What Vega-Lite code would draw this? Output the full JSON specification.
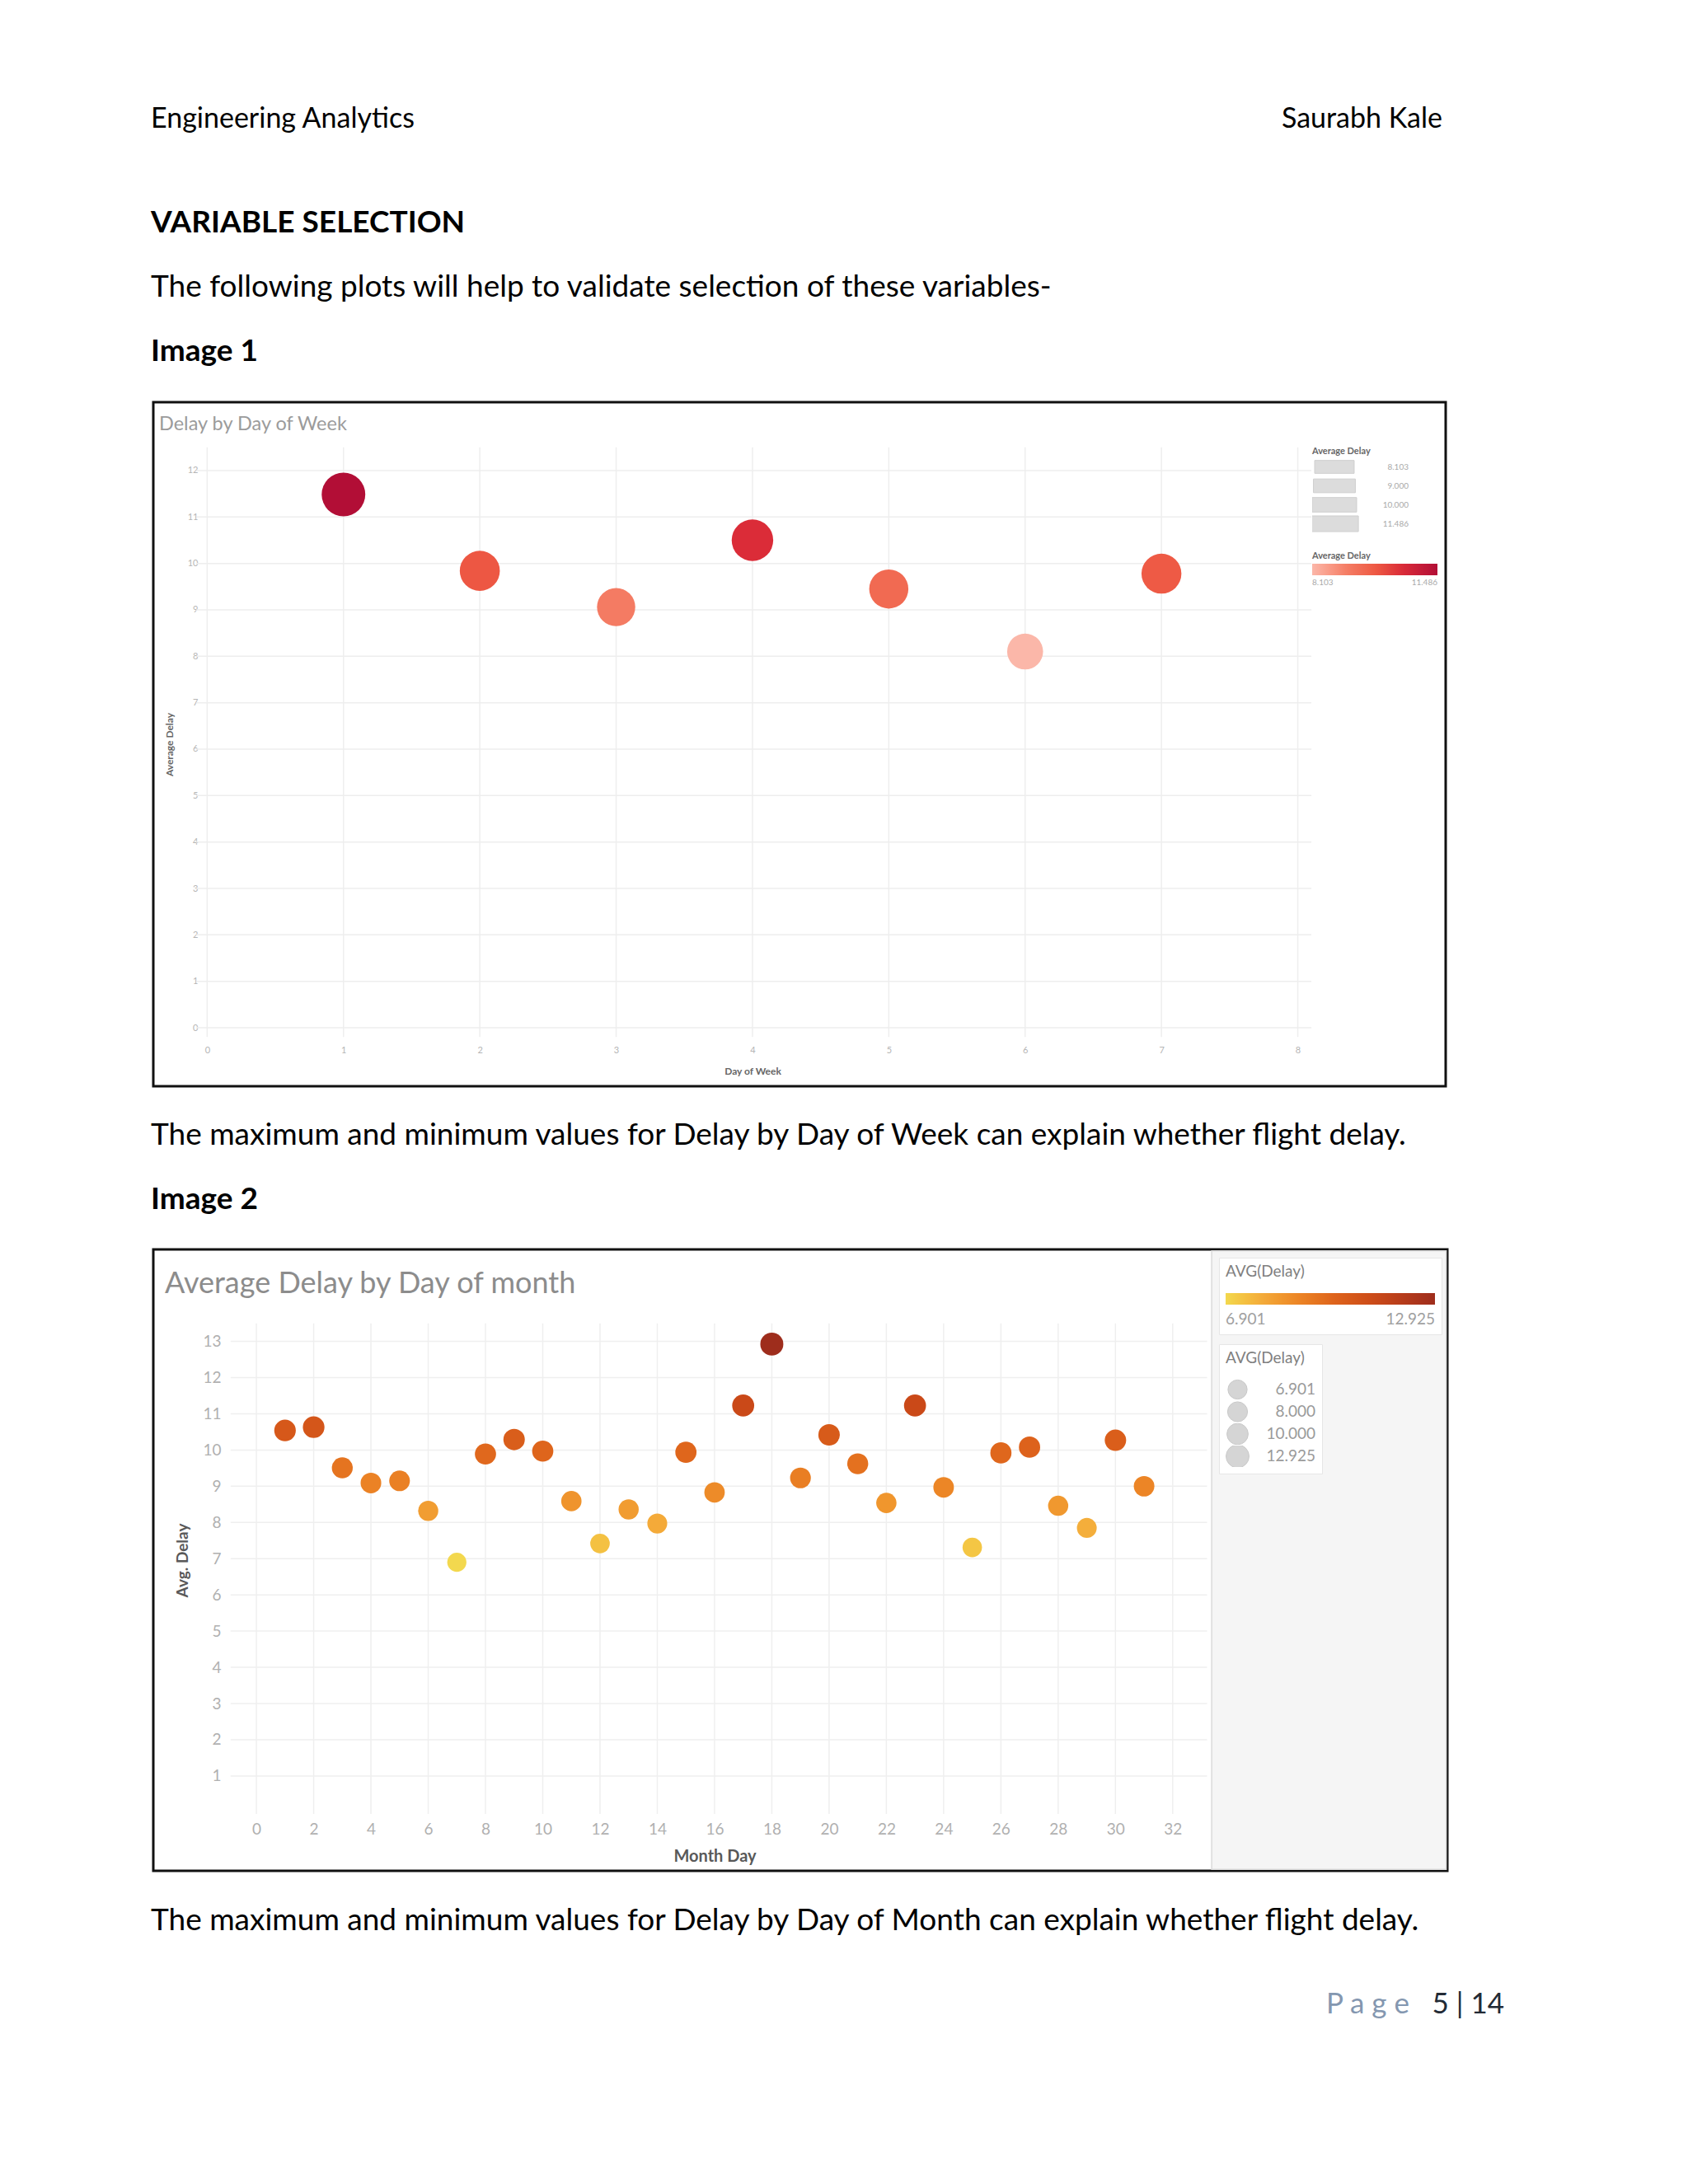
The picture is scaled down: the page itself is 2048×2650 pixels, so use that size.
{
  "$schema": "https://vega.github.io/schema/vega-lite/v6.json",
  "background": "white",
  "padding": {"left": 183, "top": 0, "right": 0, "bottom": 0},
  "bounds": "flush",
  "spacing": 0,
  "resolve": {
    "scale": {"color": "independent", "size": "independent", "x": "independent", "y": "independent"},
    "legend": {"color": "independent", "size": "independent"}
  },
  "config": {"view": {"stroke": null}, "font": "Lato"},
  "datasets": {
    "week": [
      {"day": 1, "delay": 11.486}, {"day": 2, "delay": 9.84}, {"day": 3, "delay": 9.06},
      {"day": 4, "delay": 10.5}, {"day": 5, "delay": 9.45}, {"day": 6, "delay": 8.103},
      {"day": 7, "delay": 9.78}
    ],
    "month": [
      {"day": 1, "delay": 10.54}, {"day": 2, "delay": 10.63}, {"day": 3, "delay": 9.51},
      {"day": 4, "delay": 9.09}, {"day": 5, "delay": 9.15}, {"day": 6, "delay": 8.32},
      {"day": 7, "delay": 6.901}, {"day": 8, "delay": 9.89}, {"day": 9, "delay": 10.29},
      {"day": 10, "delay": 9.97}, {"day": 11, "delay": 8.59}, {"day": 12, "delay": 7.42},
      {"day": 13, "delay": 8.36}, {"day": 14, "delay": 7.97}, {"day": 15, "delay": 9.94},
      {"day": 16, "delay": 8.83}, {"day": 17, "delay": 11.23}, {"day": 18, "delay": 12.925},
      {"day": 19, "delay": 9.23}, {"day": 20, "delay": 10.42}, {"day": 21, "delay": 9.62},
      {"day": 22, "delay": 8.54}, {"day": 23, "delay": 11.23}, {"day": 24, "delay": 8.97},
      {"day": 25, "delay": 7.31}, {"day": 26, "delay": 9.92}, {"day": 27, "delay": 10.08},
      {"day": 28, "delay": 8.46}, {"day": 29, "delay": 7.85}, {"day": 30, "delay": 10.27},
      {"day": 31, "delay": 9.0}
    ],
    "wk_x": [{"v": 0}, {"v": 1}, {"v": 2}, {"v": 3}, {"v": 4}, {"v": 5}, {"v": 6}, {"v": 7}, {"v": 8}],
    "wk_y": [{"v": 0}, {"v": 1}, {"v": 2}, {"v": 3}, {"v": 4}, {"v": 5}, {"v": 6}, {"v": 7}, {"v": 8}, {"v": 9}, {"v": 10}, {"v": 11}, {"v": 12}],
    "mo_x": [{"v": 0}, {"v": 2}, {"v": 4}, {"v": 6}, {"v": 8}, {"v": 10}, {"v": 12}, {"v": 14}, {"v": 16}, {"v": 18}, {"v": 20}, {"v": 22}, {"v": 24}, {"v": 26}, {"v": 28}, {"v": 30}, {"v": 32}],
    "mo_y": [{"v": 1}, {"v": 2}, {"v": 3}, {"v": 4}, {"v": 5}, {"v": 6}, {"v": 7}, {"v": 8}, {"v": 9}, {"v": 10}, {"v": 11}, {"v": 12}, {"v": 13}]
  },
  "vconcat": [
    {
      "width": 1564, "height": 155,
      "data": {"values": [{"left": "Engineering Analytics", "right": "Saurabh Kale"}]},
      "layer": [
        {"mark": {"type": "text", "align": "left", "baseline": "alphabetic", "font": "Lato", "fontSize": 34, "color": "#000000", "dx": -3},
         "encoding": {"text": {"field": "left", "type": "nominal"}, "x": {"value": 0}, "y": {"value": "height"}}},
        {"mark": {"type": "text", "align": "right", "baseline": "alphabetic", "font": "Lato", "fontSize": 34, "color": "#000000"},
         "encoding": {"text": {"field": "right", "type": "nominal"}, "x": {"value": "width"}, "y": {"value": "height"}}}
      ]
    },
    {
      "width": 1568, "height": 127,
      "data": {"values": [{"t": "VARIABLE SELECTION"}]},
      "mark": {"type": "text", "align": "left", "baseline": "alphabetic", "font": "Lato", "fontSize": 37, "fontWeight": "bold", "color": "#000000", "dx": -3},
      "encoding": {"text": {"field": "t", "type": "nominal"}, "x": {"value": 0}, "y": {"value": "height"}}
    },
    {
      "width": 1568, "height": 78,
      "data": {"values": [{"t": "The following plots will help to validate selection of these variables-"}]},
      "mark": {"type": "text", "align": "left", "baseline": "alphabetic", "font": "Lato", "fontSize": 37, "color": "#000000", "dx": -3},
      "encoding": {"text": {"field": "t", "type": "nominal"}, "x": {"value": 0}, "y": {"value": "height"}}
    },
    {
      "width": 1568, "height": 128,
      "data": {"values": [{"t": "Image 1"}]},
      "mark": {"type": "text", "align": "left", "baseline": "alphabetic", "font": "Lato", "fontSize": 37, "fontWeight": "bold", "color": "#000000", "dx": -3, "dy": -50},
      "encoding": {"text": {"field": "t", "type": "nominal"}, "x": {"value": 0}, "y": {"value": "height"}}
    },
    {
      "width": 1568, "height": 830,
      "view": {"stroke": "#111111", "strokeWidth": 3},
      "title": {"text": "Delay by Day of Week", "anchor": "start", "frame": "group", "offset": -38, "dx": 7, "font": "Lato", "fontSize": 23.5, "fontWeight": "normal", "color": "#9b9b9b"},
      "layer": [
        {
          "data": {"name": "wk_x"},
          "mark": {"type": "rule", "color": "#eeeeee", "strokeWidth": 1.5},
          "encoding": {
            "x": {"field": "v", "type": "quantitative", "scale": {"domain": [-0.395, 9.085], "nice": false, "zero": false},
                  "axis": {"orient": "bottom", "offset": -52, "values": [0, 1, 2, 3, 4, 5, 6, 7, 8], "grid": false, "domain": false, "ticks": false,
                           "labelPadding": 2, "labelFontSize": 11, "labelColor": "#b5b5b5", "labelFlush": false, "labelOverlap": false,
                           "title": "Day of Week", "titleFontSize": 12, "titleFontWeight": "bold", "titleColor": "#666666", "titlePadding": 15, "titleX": 727}},
            "y": {"datum": -0.2, "type": "quantitative", "scale": {"domain": [-1.26, 13.473], "nice": false, "zero": false},
                  "axis": {"orient": "left", "offset": -56, "values": [0, 1, 2, 3, 4, 5, 6, 7, 8, 9, 10, 11, 12], "grid": false, "domain": false, "ticks": false,
                           "labelPadding": 2, "labelFontSize": 11, "labelColor": "#b5b5b5", "labelFlush": false, "labelOverlap": false,
                           "title": "Average Delay", "titleFontSize": 12, "titleFontWeight": "bold", "titleColor": "#666666", "titlePadding": 15}},
            "y2": {"datum": 12.5}
          }
        },
        {
          "data": {"name": "wk_y"},
          "mark": {"type": "rule", "color": "#eeeeee", "strokeWidth": 1.5},
          "encoding": {
            "y": {"field": "v", "type": "quantitative", "scale": {"domain": [-1.26, 13.473], "nice": false, "zero": false},
                  "axis": {"orient": "left", "offset": -56, "values": [0, 1, 2, 3, 4, 5, 6, 7, 8, 9, 10, 11, 12], "grid": false, "domain": false, "ticks": false,
                           "labelPadding": 2, "labelFontSize": 11, "labelColor": "#b5b5b5", "labelFlush": false, "labelOverlap": false,
                           "title": "Average Delay", "titleFontSize": 12, "titleFontWeight": "bold", "titleColor": "#666666", "titlePadding": 15}},
            "x": {"datum": -0.08, "type": "quantitative", "scale": {"domain": [-0.395, 9.085], "nice": false, "zero": false},
                  "axis": {"orient": "bottom", "offset": -52, "values": [0, 1, 2, 3, 4, 5, 6, 7, 8], "grid": false, "domain": false, "ticks": false,
                           "labelPadding": 2, "labelFontSize": 11, "labelColor": "#b5b5b5", "labelFlush": false, "labelOverlap": false,
                           "title": "Day of Week", "titleFontSize": 12, "titleFontWeight": "bold", "titleColor": "#666666", "titlePadding": 15, "titleX": 727}},
            "x2": {"datum": 8.1}
          }
        },
        {
          "data": {"name": "week"},
          "mark": {"type": "circle", "opacity": 1},
          "encoding": {
            "x": {"field": "day", "type": "quantitative", "scale": {"domain": [-0.395, 9.085], "nice": false, "zero": false},
                  "axis": {"orient": "bottom", "offset": -52, "values": [0, 1, 2, 3, 4, 5, 6, 7, 8], "grid": false, "domain": false, "ticks": false,
                           "labelPadding": 2, "labelFontSize": 11, "labelColor": "#b5b5b5", "labelFlush": false, "labelOverlap": false,
                           "title": "Day of Week", "titleFontSize": 12, "titleFontWeight": "bold", "titleColor": "#666666", "titlePadding": 15, "titleX": 727}},
            "y": {"field": "delay", "type": "quantitative", "scale": {"domain": [-1.26, 13.473], "nice": false, "zero": false},
                  "axis": {"orient": "left", "offset": -56, "values": [0, 1, 2, 3, 4, 5, 6, 7, 8, 9, 10, 11, 12], "grid": false, "domain": false, "ticks": false,
                           "labelPadding": 2, "labelFontSize": 11, "labelColor": "#b5b5b5", "labelFlush": false, "labelOverlap": false,
                           "title": "Average Delay", "titleFontSize": 12, "titleFontWeight": "bold", "titleColor": "#666666", "titlePadding": 15}},
            "size": {"field": "delay", "type": "quantitative", "scale": {"domain": [8.103, 11.486], "range": [1900, 2800], "zero": false},
                     "legend": {"orient": "none", "legendX": 1406, "legendY": 54, "title": "Average Delay", "titleFontSize": 11, "titleFontWeight": "bold", "titleColor": "#666666", "titlePadding": 3,
                                "values": [8.103, 9, 10, 11.486], "format": ".3f", "symbolType": "M-1.1,-0.36H1.1V0.36H-1.1Z", "symbolFillColor": "#dcdcdc", "symbolStrokeColor": "#cfcfcf", "symbolStrokeWidth": 1, "symbolOpacity": 1,
                                "labelAlign": "right", "labelOffset": 63, "labelFontSize": 10, "labelColor": "#aaaaaa", "clipHeight": 21, "rowPadding": 2}},
            "color": {"field": "delay", "type": "quantitative",
                      "scale": {"domain": [8.103, 9.06, 9.8, 10.5, 11.486], "range": ["#fbb7a9", "#f47b63", "#ee5944", "#db2c38", "#b20e36"]},
                      "legend": {"orient": "none", "legendX": 1406, "legendY": 181, "direction": "horizontal", "title": "Average Delay", "titleFontSize": 11, "titleFontWeight": "bold", "titleColor": "#666666", "titlePadding": 4,
                                 "gradientLength": 152, "gradientThickness": 14, "gradientStrokeWidth": 0, "values": [8.103, 11.486], "format": ".3f",
                                 "labelFontSize": 10, "labelColor": "#aaaaaa", "labelOffset": 4}}
          }
        }
      ]
    },
    {
      "width": 1568, "height": 71,
      "data": {"values": [{"t": "The maximum and minimum values for Delay by Day of Week can explain whether flight delay."}]},
      "mark": {"type": "text", "align": "left", "baseline": "alphabetic", "font": "Lato", "fontSize": 37, "color": "#000000", "dx": -3},
      "encoding": {"text": {"field": "t", "type": "nominal"}, "x": {"value": 0}, "y": {"value": "height"}}
    },
    {
      "width": 1568, "height": 127,
      "data": {"values": [{"t": "Image 2"}]},
      "mark": {"type": "text", "align": "left", "baseline": "alphabetic", "font": "Lato", "fontSize": 37, "fontWeight": "bold", "color": "#000000", "dx": -3, "dy": -49},
      "encoding": {"text": {"field": "t", "type": "nominal"}, "x": {"value": 0}, "y": {"value": "height"}}
    },
    {
      "width": 1570, "height": 754,
      "view": {"stroke": "#111111", "strokeWidth": 3},
      "title": {"text": "Average Delay by Day of month", "anchor": "start", "frame": "group", "offset": -61, "dx": 14, "font": "Lato", "fontSize": 36, "fontWeight": "normal", "color": "#8c8c8c"},
      "layer": [
        {
          "data": {"values": [{}]},
          "mark": {"type": "rect", "fill": "#f5f5f5", "stroke": "#dadada", "strokeWidth": 1.5},
          "encoding": {
            "x": {"datum": 33.36, "type": "quantitative", "scale": {"domain": [-3.6, 41.59], "nice": false, "zero": false},
                  "axis": {"orient": "bottom", "offset": -62, "values": [0, 2, 4, 6, 8, 10, 12, 14, 16, 18, 20, 22, 24, 26, 28, 30, 32], "grid": false, "domain": false, "ticks": false,
                           "labelPadding": 2, "labelFontSize": 19, "labelColor": "#b0b0b0", "labelFlush": false, "labelOverlap": false,
                           "title": "Month Day", "titleFontSize": 20, "titleFontWeight": "bold", "titleColor": "#595959", "titlePadding": 13, "titleX": 681}},
            "x2": {"datum": 41.55},
            "y": {"datum": -1.58, "type": "quantitative", "scale": {"domain": [-1.62, 15.54], "nice": false, "zero": false},
                  "axis": {"orient": "left", "offset": -84, "values": [1, 2, 3, 4, 5, 6, 7, 8, 9, 10, 11, 12, 13], "grid": false, "domain": false, "ticks": false,
                           "labelPadding": 2, "labelFontSize": 19, "labelColor": "#b0b0b0", "labelFlush": false, "labelOverlap": false,
                           "title": "Avg. Delay", "titleFontSize": 19, "titleFontWeight": "bold", "titleColor": "#595959", "titlePadding": 14}},
            "y2": {"datum": 15.5}
          }
        },
        {
          "data": {"name": "mo_x"},
          "mark": {"type": "rule", "color": "#efefef", "strokeWidth": 1.5},
          "encoding": {
            "x": {"field": "v", "type": "quantitative", "scale": {"domain": [-3.6, 41.59], "nice": false, "zero": false},
                  "axis": {"orient": "bottom", "offset": -62, "values": [0, 2, 4, 6, 8, 10, 12, 14, 16, 18, 20, 22, 24, 26, 28, 30, 32], "grid": false, "domain": false, "ticks": false,
                           "labelPadding": 2, "labelFontSize": 19, "labelColor": "#b0b0b0", "labelFlush": false, "labelOverlap": false,
                           "title": "Month Day", "titleFontSize": 20, "titleFontWeight": "bold", "titleColor": "#595959", "titlePadding": 13, "titleX": 681}},
            "y": {"datum": -0.05, "type": "quantitative", "scale": {"domain": [-1.62, 15.54], "nice": false, "zero": false},
                  "axis": {"orient": "left", "offset": -84, "values": [1, 2, 3, 4, 5, 6, 7, 8, 9, 10, 11, 12, 13], "grid": false, "domain": false, "ticks": false,
                           "labelPadding": 2, "labelFontSize": 19, "labelColor": "#b0b0b0", "labelFlush": false, "labelOverlap": false,
                           "title": "Avg. Delay", "titleFontSize": 19, "titleFontWeight": "bold", "titleColor": "#595959", "titlePadding": 14}},
            "y2": {"datum": 13.5}
          }
        },
        {
          "data": {"name": "mo_y"},
          "mark": {"type": "rule", "color": "#efefef", "strokeWidth": 1.5},
          "encoding": {
            "y": {"field": "v", "type": "quantitative", "scale": {"domain": [-1.62, 15.54], "nice": false, "zero": false},
                  "axis": {"orient": "left", "offset": -84, "values": [1, 2, 3, 4, 5, 6, 7, 8, 9, 10, 11, 12, 13], "grid": false, "domain": false, "ticks": false,
                           "labelPadding": 2, "labelFontSize": 19, "labelColor": "#b0b0b0", "labelFlush": false, "labelOverlap": false,
                           "title": "Avg. Delay", "titleFontSize": 19, "titleFontWeight": "bold", "titleColor": "#595959", "titlePadding": 14}},
            "x": {"datum": -0.9, "type": "quantitative", "scale": {"domain": [-3.6, 41.59], "nice": false, "zero": false},
                  "axis": {"orient": "bottom", "offset": -62, "values": [0, 2, 4, 6, 8, 10, 12, 14, 16, 18, 20, 22, 24, 26, 28, 30, 32], "grid": false, "domain": false, "ticks": false,
                           "labelPadding": 2, "labelFontSize": 19, "labelColor": "#b0b0b0", "labelFlush": false, "labelOverlap": false,
                           "title": "Month Day", "titleFontSize": 20, "titleFontWeight": "bold", "titleColor": "#595959", "titlePadding": 13, "titleX": 681}},
            "x2": {"datum": 33.2}
          }
        },
        {
          "data": {"name": "month"},
          "mark": {"type": "circle", "opacity": 1},
          "encoding": {
            "x": {"field": "day", "type": "quantitative", "scale": {"domain": [-3.6, 41.59], "nice": false, "zero": false},
                  "axis": {"orient": "bottom", "offset": -62, "values": [0, 2, 4, 6, 8, 10, 12, 14, 16, 18, 20, 22, 24, 26, 28, 30, 32], "grid": false, "domain": false, "ticks": false,
                           "labelPadding": 2, "labelFontSize": 19, "labelColor": "#b0b0b0", "labelFlush": false, "labelOverlap": false,
                           "title": "Month Day", "titleFontSize": 20, "titleFontWeight": "bold", "titleColor": "#595959", "titlePadding": 13, "titleX": 681}},
            "y": {"field": "delay", "type": "quantitative", "scale": {"domain": [-1.62, 15.54], "nice": false, "zero": false},
                  "axis": {"orient": "left", "offset": -84, "values": [1, 2, 3, 4, 5, 6, 7, 8, 9, 10, 11, 12, 13], "grid": false, "domain": false, "ticks": false,
                           "labelPadding": 2, "labelFontSize": 19, "labelColor": "#b0b0b0", "labelFlush": false, "labelOverlap": false,
                           "title": "Avg. Delay", "titleFontSize": 19, "titleFontWeight": "bold", "titleColor": "#595959", "titlePadding": 14}},
            "size": {"field": "delay", "type": "quantitative", "scale": {"domain": [6.901, 12.925], "range": [540, 780], "zero": false},
                     "legend": {"orient": "none", "legendX": 1293, "legendY": 115, "title": "AVG(Delay)", "titleFontSize": 19, "titleFontWeight": "normal", "titleColor": "#808080", "titlePadding": 15,
                                "values": [6.901, 8, 10, 12.925], "format": ".3f", "symbolType": "circle", "symbolFillColor": "#d5d5d5", "symbolStrokeColor": "#c9c9c9", "symbolStrokeWidth": 1, "symbolOpacity": 1,
                                "labelAlign": "right", "labelOffset": 80, "labelFontSize": 19, "labelColor": "#9a9a9a", "clipHeight": 26, "rowPadding": 1,
                                "padding": 8, "fillColor": "#ffffff", "strokeColor": "#e6e6e6"}},
            "color": {"field": "delay", "type": "quantitative",
                      "scale": {"domain": [6.901, 7.9, 9.0, 10.0, 11.2, 12.925], "range": ["#f3d84e", "#f4ac3b", "#ec8526", "#de641c", "#cb4a18", "#9e2d1c"]},
                      "legend": {"orient": "none", "legendX": 1293, "legendY": 10, "direction": "horizontal", "title": "AVG(Delay)", "titleFontSize": 19, "titleFontWeight": "normal", "titleColor": "#808080", "titlePadding": 16,
                                 "gradientLength": 254, "gradientThickness": 14, "gradientStrokeWidth": 0, "values": [6.901, 12.925], "format": ".3f",
                                 "labelFontSize": 19, "labelColor": "#a0a0a0", "labelOffset": 9, "padding": 8, "fillColor": "#ffffff", "strokeColor": "#e6e6e6"}}
          }
        }
      ]
    },
    {
      "width": 1568, "height": 72,
      "data": {"values": [{"t": "The maximum and minimum values for Delay by Day of Month can explain whether flight delay."}]},
      "mark": {"type": "text", "align": "left", "baseline": "alphabetic", "font": "Lato", "fontSize": 37, "color": "#000000", "dx": -3},
      "encoding": {"text": {"field": "t", "type": "nominal"}, "x": {"value": 0}, "y": {"value": "height"}}
    },
    {
      "width": 1639, "height": 101,
      "data": {"values": [{"word": "P a g e", "num": "5 | 14"}]},
      "layer": [
        {"mark": {"type": "text", "align": "right", "baseline": "alphabetic", "font": "Lato", "fontSize": 35, "color": "#222a35"},
         "encoding": {"text": {"field": "num", "type": "nominal"}, "x": {"value": "width"}, "y": {"value": "height"}}},
        {"mark": {"type": "text", "align": "right", "baseline": "alphabetic", "font": "Lato", "fontSize": 35, "color": "#8497b0", "dx": -115},
         "encoding": {"text": {"field": "word", "type": "nominal"}, "x": {"value": "width"}, "y": {"value": "height"}}}
      ]
    }
  ]
}
